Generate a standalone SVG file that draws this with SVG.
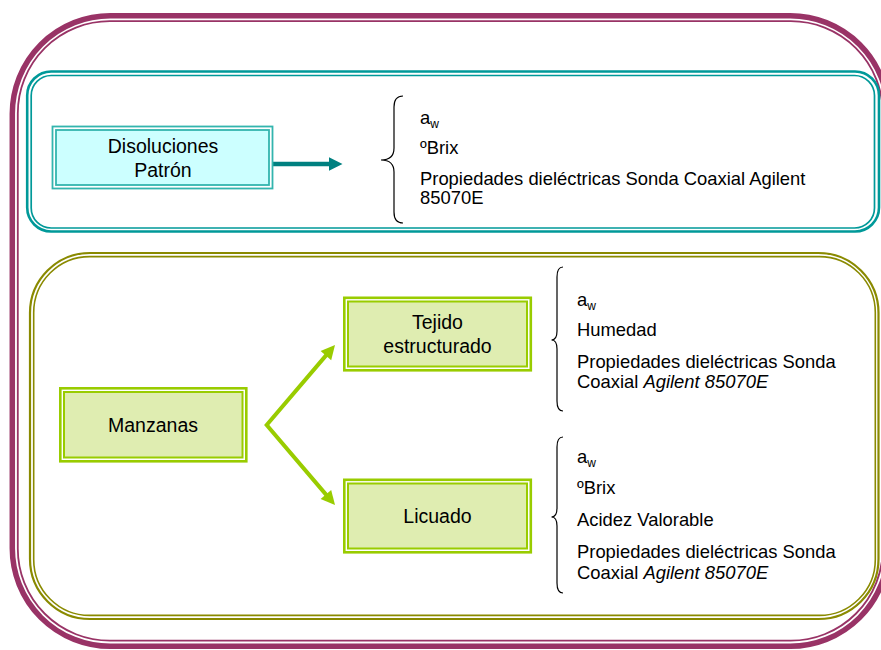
<svg xmlns="http://www.w3.org/2000/svg" width="881" height="650" viewBox="0 0 881 650">
  <style>
    text { font-family: "Liberation Sans", Arial, sans-serif; fill: #000; }
    .lbl { font-size: 19.5px; text-anchor: middle; }
    .item { font-size: 18.4px; }
    .sub { font-size: 12px; }
    .brace { fill: none; stroke: #000; stroke-width: 1.2; }
    .tealOut { fill: none; stroke: #009999; stroke-width: 2.6; }
    .tealIn { fill: none; stroke: #009999; stroke-width: 1.7; }
    .oliveOut { fill: none; stroke: #8A8A00; stroke-width: 2.2; }
    .oliveIn { fill: none; stroke: #8A8A00; stroke-width: 1.6; }
    .cyanBoxOut { fill: #ffffff; stroke: #33B5AE; stroke-width: 1.8; }
    .cyanBoxIn { fill: #CCFFFF; stroke: #33B5AE; stroke-width: 1.8; }
    .greenBoxOut { fill: #ffffff; stroke: #99CC00; stroke-width: 2.6; }
    .greenBoxIn { fill: #DFEDB1; stroke: #99CC00; stroke-width: 2; }
  </style>

  <rect width="881" height="650" fill="#ffffff"/>

  <!-- outer maroon frame -->
  <g id="frame-outer">
    <rect x="12.3" y="15.8" width="876" height="630.5" rx="98" ry="98" fill="none" stroke="#993366" stroke-width="5.5"/>
    <rect x="17.8" y="21.2" width="865" height="619.5" rx="92" ry="92" fill="none" stroke="#993366" stroke-width="1.8"/>
  </g>

  <!-- teal panel -->
  <g id="panel-patron">
    <rect class="tealOut" x="27.2" y="71.5" width="851.8" height="160" rx="24" ry="24"/>
    <rect class="tealIn" x="31.2" y="75.5" width="843.3" height="152.5" rx="20" ry="20"/>
  </g>

  <!-- olive panel -->
  <g id="panel-manzanas">
    <rect class="oliveOut" x="30" y="253" width="848.5" height="366" rx="60" ry="60"/>
    <rect class="oliveIn" x="33.7" y="256.6" width="841.6" height="358.8" rx="56" ry="56"/>
  </g>

  <!-- connectors -->
  <g id="connectors">
    <line x1="273" y1="164" x2="330" y2="164" stroke="#008080" stroke-width="4.5"/>
    <polygon points="329,157.3 342.5,164 329,170.7" fill="#008080"/>
    <path d="M326.5,354.9 L266.7,425 L326.5,495.1" fill="none" stroke="#99CC00" stroke-width="4" stroke-linejoin="miter" stroke-miterlimit="10"/>
    <polygon points="335,345 331.2,360.2 320.6,351.1" fill="#99CC00"/>
    <polygon points="335,505 331.2,489.9 320.6,498.9" fill="#99CC00"/>
  </g>

  <!-- nodes -->
  <g id="node-disoluciones">
    <rect class="cyanBoxOut" x="52.5" y="126.5" width="220" height="62"/>
    <rect class="cyanBoxIn" x="56" y="130" width="213" height="55"/>
    <text class="lbl" x="163" y="153">Disoluciones</text>
    <text class="lbl" x="163" y="177">Patrón</text>
  </g>

  <g id="node-manzanas">
    <rect class="greenBoxOut" x="60.3" y="388.3" width="186" height="73"/>
    <rect class="greenBoxIn" x="64" y="392" width="178.5" height="65.5"/>
    <text class="lbl" x="153" y="431.5">Manzanas</text>
  </g>

  <g id="node-tejido">
    <rect class="greenBoxOut" x="344.3" y="297.8" width="186.5" height="72.5"/>
    <rect class="greenBoxIn" x="348" y="301.5" width="179" height="65"/>
    <text class="lbl" x="437.5" y="329">Tejido</text>
    <text class="lbl" x="437.5" y="353">estructurado</text>
  </g>

  <g id="node-licuado">
    <rect class="greenBoxOut" x="344.3" y="479.8" width="186.5" height="72.5"/>
    <rect class="greenBoxIn" x="348" y="483.5" width="179" height="65"/>
    <text class="lbl" x="437.5" y="523">Licuado</text>
  </g>

  <!-- brace lists -->
  <g id="list-patron">
    <path class="brace" d="M403,96 Q394,96 394,107 L394,148 Q394,160 381,160 Q394,160 394,172 L394,212 Q394,223 403,223"/>
    <text class="item" x="420" y="124">a<tspan class="sub" dy="4">w</tspan></text>
    <text class="item" x="420" y="154">ºBrix</text>
    <text class="item" x="420" y="185">Propiedades dieléctricas Sonda Coaxial Agilent</text>
    <text class="item" x="420" y="204">85070E</text>
  </g>

  <g id="list-tejido">
    <path class="brace" d="M563,267 Q557,267 557,277 L557,331 Q557,340 551.5,340 Q557,340 557,349 L557,401 Q557,411 563,411"/>
    <text class="item" x="577" y="306">a<tspan class="sub" dy="4">w</tspan></text>
    <text class="item" x="577" y="336">Humedad</text>
    <text class="item" x="577" y="368">Propiedades dieléctricas Sonda</text>
    <text class="item" x="577" y="388">Coaxial <tspan font-style="italic">Agilent 85070E</tspan></text>
  </g>

  <g id="list-licuado">
    <path class="brace" d="M563,437 Q557,437 557,447 L557,508 Q557,517 551.5,517 Q557,517 557,526 L557,583 Q557,593 563,593"/>
    <text class="item" x="577" y="463">a<tspan class="sub" dy="4">w</tspan></text>
    <text class="item" x="577" y="494">ºBrix</text>
    <text class="item" x="577" y="526">Acidez Valorable</text>
    <text class="item" x="577" y="558">Propiedades dieléctricas Sonda</text>
    <text class="item" x="577" y="579">Coaxial <tspan font-style="italic">Agilent 85070E</tspan></text>
  </g>
</svg>
